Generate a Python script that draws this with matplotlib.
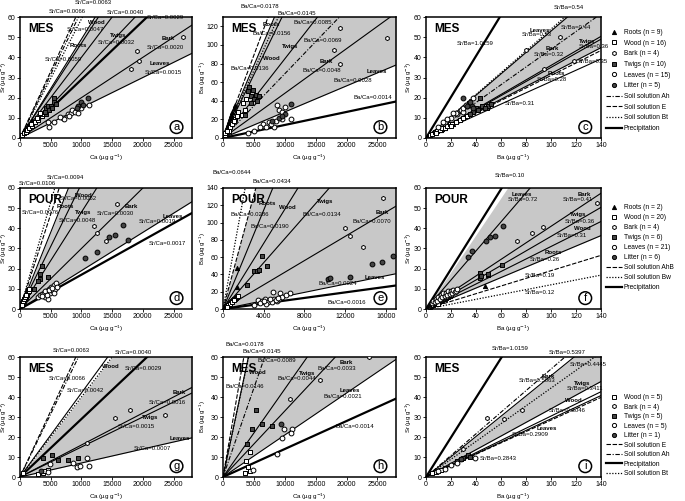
import numpy as np
import matplotlib.pyplot as plt
from matplotlib.lines import Line2D

plt.rcParams['font.family'] = ['Liberation Sans', 'DejaVu Sans']

# ---------------- panel a : Sr vs Ca (MES)
a_slopes = [0.0066, 0.0063, 0.0059, 0.0049, 0.0047, 0.0040, 0.0032, 0.0029, 0.0020, 0.0015]
a_kinds = ['E', 'Ah', 'Bt', 'S', 'S', 'S', 'S', 'P', 'S', 'S']
a_band = (0.0015, 0.0049)
a_notes = ["Sr/Ca=0.0063", "Sr/Ca=0.0066", "Sr/Ca=0.0040", "Sr/Ca=0.0029", "Wood", "Sr/Ca=0.0047",
           "Roots", "Sr/Ca=0.0059", "Twigs", "Sr/Ca=0.0032", "Bark", "Sr/Ca=0.0020", "Leaves", "Sr/Ca=0.0015"]
a_pts = {
    "Roots": ([500, 800, 1000, 1200, 1500, 1800, 2000, 700, 1300], [3, 4, 5, 6, 7, 8, 9, 3.5, 5.5]),
    "Wood": ([300, 600, 900, 1200, 1500, 2000, 2500, 3000, 3500, 3800, 4000, 4200, 2800, 1800, 3300, 4500],
             [1.5, 2.5, 3, 4, 5, 6, 8, 9, 11, 12, 13, 14, 10, 7, 12.5, 15]),
    "Bark": ([18000, 19000, 19300, 26500], [34, 43, 38, 50]),
    "Twigs": ([4200, 4500, 4800, 5000, 5200, 5500, 5600, 4300, 4000, 5800], [15, 16, 14, 16, 15, 20, 18, 12, 13, 17]),
    "Leaves": ([4800, 4500, 5500, 7000, 7200, 7800, 8300, 8500, 9000, 9500, 9800, 10000, 11200, 8000, 6500],
               [5.5, 8, 8, 10, 9.5, 12, 12.5, 14, 13, 12.5, 16, 15, 16.5, 11, 10.5]),
    "Litter": ([9500, 10000, 11000, 9200, 10300], [16, 18, 20, 15, 16.5]),
}

# ---------------- panel b : Ba vs Ca (MES)
b_slopes = [0.0178, 0.0156, 0.0145, 0.0136, 0.0085, 0.0069, 0.0048, 0.0028, 0.0014]
b_kinds = ['E', 'S', 'Bt', 'S', 'S', 'Ah', 'S', 'S', 'P']
b_band = (0.0028, 0.0156)
b_notes = ["Ba/Ca=0.0178", "Ba/Ca=0.0145", "Ba/Ca=0.0085", "Roots", "Ba/Ca=0.0156", "Twigs", "Ba/Ca=0.0069",
           "Wood", "Ba/Ca=0.0136", "Bark", "Ba/Ca=0.0048", "Leaves", "Ba/Ca=0.0028", "Ba/Ca=0.0014"]
b_pts = {
    "Roots": ([500, 800, 1000, 1200, 1500, 1800, 2000, 700, 1300], [10, 15, 18, 22, 28, 32, 35, 12, 25]),
    "Wood": ([300, 600, 900, 1200, 1500, 2000, 2500, 3000, 3500, 3800, 1000, 1800, 400, 700, 2200, 3200],
             [3, 6, 9, 12, 15, 20, 28, 25, 30, 42, 8, 18, 5, 7, 24, 38]),
    "Bark": ([19000, 18000, 19000, 26500], [118, 95, 80, 107]),
    "Twigs": ([4000, 4500, 5000, 5500, 4200, 4800, 5300, 4600, 3500, 5800], [50, 45, 42, 40, 55, 52, 46, 38, 25, 45]),
    "Leaves": ([5000, 6500, 7000, 7500, 8500, 9000, 9500, 10000, 8800, 8200, 9500, 11000, 4000, 6000, 7800],
               [8, 15, 12, 17, 18, 30, 28, 33, 35, 12, 20, 20, 5, 12, 15]),
    "Litter": ([11000, 9000, 10000, 8000, 9500], [37, 22, 26, 18, 24]),
}

# ---------------- panel c : Sr vs Ba (MES)
c_slopes = [1.0159, 0.54, 0.53, 0.44, 0.36, 0.35, 0.32, 0.31, 0.28]
c_kinds = ['P', 'Bt', 'S', 'Ah', 'S', 'S', 'S', 'E', 'S']
c_band = (0.32, 0.54)
c_notes = ["Sr/Ba=0.54", "Leaves", "Sr/Ba=0.53", "Sr/Ba=0.44", "Bark", "Sr/Ba=0.32", "Twigs", "Sr/Ba=0.36",
           "Sr/Ba=0.35", "Roots", "Sr/Ba=0.28", "Sr/Ba=0.31", "Sr/Ba=1.0159"]
c_pts = {
    "Roots": ([4, 6, 8, 10, 12, 15, 18, 22, 13], [2, 3, 3.5, 4, 4, 5, 6, 7, 4.5]),
    "Wood": ([3, 5, 7, 9, 11, 13, 15, 17, 19, 21, 24, 27, 30, 33, 8, 20],
             [1.5, 2, 3, 3.5, 4, 5, 5, 6, 7, 7, 8, 9, 10, 11, 2.5, 6]),
    "Bark": ([107, 80, 94.5, 118], [50, 43.6, 34, 38]),
    "Twigs": ([43, 48.5, 40, 45, 42, 50, 47, 38, 35, 52], [20, 15, 15, 16, 14, 16, 15, 13, 12, 17]),
    "Leaves": ([10, 15, 14, 20, 17, 25, 24, 28, 30, 22, 33, 30, 35, 32, 38],
               [5.5, 8, 8, 10, 9.5, 12, 12.5, 14, 13, 12.5, 16, 15, 17, 16.5, 20]),
    "Litter": ([37, 35, 30, 38, 33], [16, 18, 20, 15, 16]),
}

# ---------------- panel d : Sr vs Ca (POUR)
d_slopes = [0.0106, 0.0094, 0.0076, 0.0062, 0.0048, 0.0030, 0.0019, 0.0017]
d_kinds = ['Bt', 'E', 'S', 'S', 'S', 'S', 'S', 'P']
d_band = (0.0019, 0.0076)
d_notes = ["Sr/Ca=0.0094", "Sr/Ca=0.0106", "Wood", "Sr/Ca=0.0062", "Roots", "Sr/Ca=0.0076", "Twigs",
           "Sr/Ca=0.0048", "Bark", "Sr/Ca=0.0030", "Leaves", "Sr/Ca=0.0019", "Sr/Ca=0.0017"]
d_pts = {
    "Roots": ([1200, 800], [10, 6]),
    "Wood": ([200, 300, 400, 500, 600, 700, 800, 900, 1000, 1100, 1200, 1300, 1400, 1500, 250, 450, 650, 850, 1050, 350],
             [2, 2.5, 3, 3.5, 4, 4.5, 5, 6, 6.5, 7, 8, 8.5, 9, 10, 3, 4, 5, 6, 7, 2]),
    "Bark": ([15800, 12500, 14000, 12000], [52, 37.5, 33.5, 41]),
    "Twigs": ([3500, 4500, 3200, 3300, 2300, 3000], [21.5, 16, 17.5, 15, 10, 14]),
    "Leaves": ([3000, 3300, 3600, 3900, 4100, 4300, 4500, 4700, 4900, 5100, 5300, 5500, 5700, 5900, 3500, 4000,
                4400, 4800, 5200, 5600, 6000],
               [6, 7, 7.5, 8, 6, 9, 5, 10, 8, 11, 9, 12, 10, 13, 6.5, 9, 7, 9.5, 10.5, 8, 11]),
    "Litter": ([10500, 12500, 14500, 15500, 16800, 17500], [25.5, 28.5, 35.5, 36.5, 41.5, 34]),
}

# ---------------- panel e : Ba vs Ca (POUR)
e_slopes = [0.0644, 0.0434, 0.0286, 0.0190, 0.0134, 0.0070, 0.0024, 0.0016]
e_kinds = ['Bt', 'E', 'S', 'S', 'S', 'S', 'S', 'P']
e_band = (0.0024, 0.0434)
e_notes = ["Ba/Ca=0.0644", "Ba/Ca=0.0434", "Roots", "Wood", "Ba/Ca=0.0286", "Ba/Ca=0.0190", "Twigs",
           "Ba/Ca=0.0134", "Bark", "Ba/Ca=0.0070", "Leaves", "Ba/Ca=0.0024", "Ba/Ca=0.0016"]
e_pts = {
    "Roots": ([1380, 1380], [47, 25.5]),
    "Wood": ([200, 300, 400, 500, 600, 700, 800, 900, 1000, 1100, 1200, 1300, 1400, 1500, 250, 450, 650, 850, 1050, 350],
             [2, 3, 4, 5, 6, 7, 8, 9, 10, 11, 12, 13, 14, 15, 3, 5, 6, 8, 10, 2]),
    "Bark": ([15720, 11990, 12480, 13760], [128, 94, 84.5, 72]),
    "Twigs": ([3830, 4320, 3050, 3300, 2360, 3500], [61, 50, 44, 44, 28, 45]),
    "Leaves": ([4900, 5600, 6600, 3440, 3800, 4100, 4400, 4700, 5000, 5300, 5500, 3000, 3600, 4200, 4800, 5200,
                5800, 6200, 4000, 4600, 5400],
               [19.7, 18.5, 18.5, 10.4, 9, 11, 8, 10, 12, 9, 11, 5, 7, 6, 8, 10, 14, 16, 9, 12, 13]),
    "Litter": ([14640, 15620, 16700, 12480, 10320, 10500], [52, 54.5, 61, 37, 34.7, 36]),
}

# ---------------- panel f : Sr vs Ba (POUR)
f_slopes = [0.99, 0.72, 0.41, 0.36, 0.31, 0.26, 0.19, 0.12]
f_kinds = ['P', 'S', 'S', 'S', 'S', 'S', 'E', 'Bt']
f_band = (0.26, 0.92)
f_notes = ["Sr/Ba=0.10", "Leaves", "Sr/Ba=0.72", "Bark", "Sr/Ba=0.41", "Twigs", "Sr/Ba=0.36", "Wood",
           "Sr/Ba=0.31", "Roots", "Sr/Ba=0.26", "Sr/Ba=0.19", "Sr/Ba=0.12"]
f_pts = {
    "Roots": ([47.2, 10], [11.4, 4]),
    "Wood": ([3, 4, 5, 6, 7, 8, 9, 10, 11, 12, 13, 14, 15, 16, 17, 18, 19, 20, 6, 10],
             [1, 1.5, 2, 2, 2.5, 3, 3, 3.5, 4, 4, 4.5, 5, 5, 5.5, 6, 6, 6.5, 7, 3, 2.5]),
    "Bark": ([136.8, 93.6, 84.8, 72.8], [52.5, 40.7, 37.7, 33.7]),
    "Twigs": ([60.8, 43.2, 49.6, 43.2, 44, 50], [21.8, 17.8, 16.9, 15.4, 16.5, 17.5]),
    "Leaves": ([5, 6, 7, 8, 9, 10, 11, 12, 13, 14, 15, 16, 17, 18, 19, 20, 21, 22, 23, 24, 25],
               [3, 4, 3.5, 5, 4, 6, 5, 7, 6, 8, 6.5, 8, 7, 9, 7.5, 9, 8, 9.5, 8.5, 9, 10]),
    "Litter": ([61.6, 55, 51, 48, 36.8, 33.6], [41, 36, 35.7, 33.7, 28.8, 25.8]),
}

# ---------------- panel g : Sr vs Ca (MES, second series)
g_slopes = [0.0066, 0.0063, 0.0042, 0.0040, 0.0029, 0.0016, 0.0015, 0.0007]
g_kinds = ['E', 'Ah', 'S', 'Bt', 'P', 'S', 'S', 'S']
g_band = (0.0007, 0.0040)
g_notes = ["Sr/Ca=0.0063", "Sr/Ca=0.0040", "Wood", "Sr/Ca=0.0029", "Sr/Ca=0.0066", "Sr/Ca=0.0042", "Bark",
           "Sr/Ca=0.0016", "Twigs", "Sr/Ca=0.0015", "Leaves", "Sr/Ca=0.0007"]
g_pts = {
    "Wood": ([3000, 3800, 500, 4000, 4600], [1.5, 2, 2, 3, 3.5]),
    "Bark": ([23600, 17900, 15500, 10900], [31, 33.5, 29.5, 17]),
    "Twigs": ([5200, 3700, 6200, 7800, 9500], [11, 9.5, 8.5, 8.5, 9.5]),
    "Leaves": ([8700, 9200, 9800, 10900, 11300, 4900, 4600], [7, 5, 5.5, 9.5, 5.5, 6.5, 2.5]),
    "Litter": ([3400], [3]),
}

# ---------------- panel h : Ba vs Ca (MES, second series)
h_slopes = [0.0178, 0.0146, 0.0145, 0.0089, 0.0044, 0.0033, 0.0021, 0.0014]
h_kinds = ['E', 'S', 'Bt', 'Ah', 'S', 'S', 'S', 'P']
h_band = (0.0021, 0.0146)
h_notes = ["Ba/Ca=0.0178", "Ba/Ca=0.0145", "Ba/Ca=0.0089", "Wood", "Ba/Ca=0.0146", "Twigs", "Ba/Ca=0.0044",
           "Bark", "Ba/Ca=0.0033", "Leaves", "Ba/Ca=0.0021", "Ba/Ca=0.0014"]
h_pts = {
    "Wood": ([4370, 3800, 4000, 4300, 3600], [12.5, 8, 5, 3, 2]),
    "Bark": ([23700, 15700, 10840], [60, 48.5, 39]),
    "Twigs": ([5340, 6300, 4700, 7930, 3880], [33.5, 26.5, 24, 25.5, 16.5]),
    "Leaves": ([9870, 11170, 11000, 9550, 8740, 4800], [24, 24, 22, 19.5, 11.5, 3.5]),
    "Litter": ([9390], [26.5]),
}

# ---------------- panel i : Sr vs Ba (MES, second series)
i_slopes = [0.99, 0.5397, 0.5063, 0.4445, 0.3411, 0.3046, 0.2909, 0.2843]
i_kinds = ['P', 'Ah', 'S', 'Bt', 'S', 'S', 'S', 'E']
i_band = (0.3411, 0.5063)
i_notes = ["Sr/Ba=1.0159", "Sr/Ba=0.5397", "Sr/Ba=0.4445", "Bark", "Sr/Ba=0.5063", "Twigs", "Sr/Ba=0.3411",
           "Wood", "Sr/Ba=0.3046", "Leaves", "Sr/Ba=0.2909", "Sr/Ba=0.2843"]
i_pts = {
    "Wood": ([5, 8, 10, 12, 15], [2, 2.5, 3, 3.5, 4.5]),
    "Bark": ([76.8, 48.8, 62, 30], [33.5, 29.5, 29, 14]),
    "Twigs": ([33.6, 28, 25, 35, 30], [11, 9, 8, 10, 9.5]),
    "Leaves": ([39.2, 20, 25, 10, 15], [9.5, 6, 7, 3, 4]),
    "Litter": ([28], [9]),
}

legend_c = ["Roots (n = 9)", "Wood (n = 16)", "Bark (n = 4)", "Twigs (n = 10)", "Leaves (n = 15)", "Litter (n = 5)",
            "Soil solution Ah", "Soil solution E", "Soil solution Bt", "Precipitation"]
legend_f = ["Roots (n = 2)", "Wood (n = 20)", "Bark (n = 4)", "Twigs (n = 6)", "Leaves (n = 21)", "Litter (n = 6)",
            "Soil solution AhB", "Soil solution Bw", "Precipitation"]
legend_i = ["Wood (n = 5)", "Bark (n = 4)", "Twigs (n = 5)", "Leaves (n = 5)", "Litter (n = 1)",
            "Soil solution E", "Soil solution Ah", "Precipitation", "Soil solution Bt"]

# ---------------- styles / layout
line_style = {
    'E': dict(ls=(0, (4, 1.5)), lw=0.8),
    'Ah': dict(ls=(0, (4, 1.5, 1, 1.5)), lw=0.8),
    'Bt': dict(ls=(0, (1, 1.3)), lw=0.9),
    'P': dict(ls='-', lw=1.6),
    'S': dict(ls='-', lw=0.8),
}
mark = {
    "Roots": dict(marker='^', c='black', ec='black', s=9),
    "Wood": dict(marker='s', c='white', ec='black', s=9),
    "Bark": dict(marker='h', c='white', ec='black', s=9),
    "Twigs": dict(marker='s', c='#444444', ec='black', s=12),
    "Leaves": dict(marker='o', c='white', ec='black', s=12),
    "Litter": dict(marker='o', c='#444444', ec='black', s=12),
}

W, H = 685, 501
col_left = [20, 223, 426]
col_w = [172, 173, 175]
col_ylab = [9, 208, 414]      # x pixel of the right edge of the y-axis title
row_top = [17, 188, 357]
row_bot = [138, 309, 477]

fig = plt.figure(figsize=(W / 100, H / 100), dpi=100)


def make_ax(r, c):
    l, t, b = col_left[c], row_top[r], row_bot[r]
    ax = fig.add_axes([l / W, 1 - b / H, col_w[c] / W, (b - t) / H])
    ax.yaxis.set_label_coords((col_ylab[c] - l) / col_w[c], 0.5)
    return ax


def panel(ax, slopes, kinds, band, notes, note_xy, pts, xmax, ymax, xt, yt, xl, yl, site, letter):
    ax.set_xlim(0, xmax)
    ax.set_ylim(0, ymax)
    xs = np.array([0, xmax])
    ax.fill_between(xs, band[0] * xs, band[1] * xs, color='#c8c8c8', lw=0, zorder=0)
    for s, k in zip(slopes, kinds):
        ax.plot(xs, s * xs, color='black', zorder=2, **line_style[k])
    for name, (px, py) in pts.items():
        ax.scatter(px, py, lw=0.7, zorder=3, **mark[name])
    for txt, (tx, ty) in zip(notes, note_xy):
        bold = txt in ("Roots", "Wood", "Twigs", "Bark", "Leaves")
        ax.text(tx, ty, txt, fontsize=4.3, ha='center', va='center',
                fontweight='bold' if bold else 'normal', zorder=4)
    ax.set_xticks(xt)
    ax.set_yticks(yt)
    ax.tick_params(labelsize=5, length=2, width=0.6, pad=1.2)
    for sp in ax.spines.values():
        sp.set_linewidth(1.1)
    ax.set_xlabel(xl, fontsize=4.5, labelpad=2)
    ax.set_ylabel(yl, fontsize=4.3)
    ax.text(0.05, 0.9, site, transform=ax.transAxes, fontsize=8.5, fontweight='bold', va='center', zorder=5)
    ax.text(0.91, 0.09, letter, transform=ax.transAxes, fontsize=8, ha='center', va='center', zorder=5,
            bbox=dict(boxstyle='circle,pad=0.12', fc='white', ec='black', lw=1.1))


ca_ticks = [0, 5000, 10000, 15000, 20000, 25000]
ba_ticks = [0, 20, 40, 60, 80, 100, 120, 140]
y60 = [0, 10, 20, 30, 40, 50, 60]
ca_lab = "Ca (µg g$^{-1}$)"
sr_lab = "Sr (µg g$^{-1}$)"
ba_lab = "Ba (µg g$^{-1}$)"

a_xy = [(11900, 67.4), (7650, 62.5), (17100, 62), (23600, 59.6), (12500, 57.5), (10600, 54), (9500, 46),
        (7100, 39), (16000, 51), (15700, 47.6), (24100, 49.5), (23600, 45), (22800, 36.7), (23300, 32.7)]
panel(make_ax(0, 0), a_slopes, a_kinds, a_band, a_notes, a_xy, a_pts, 28000, 60, ca_ticks, y60,
      ca_lab, sr_lab, "MES", "a")

b_xy = [(6000, 141), (12000, 134), (14600, 124), (7900, 122), (7900, 112), (10800, 98), (16200, 105),
        (7900, 85), (4400, 75), (16800, 82), (16000, 73), (24900, 71), (21000, 62), (24300, 44)]
panel(make_ax(0, 1), b_slopes, b_kinds, b_band, b_notes, b_xy, b_pts, 28000, 130, ca_ticks,
      [0, 20, 40, 60, 80, 100, 120], ca_lab, ba_lab, "MES", "b")

c_xy = [(114.5, 64.5), (90.7, 53.5), (88.3, 51.3), (120, 55), (101, 44.6), (98.6, 41.6), (129, 48),
        (134, 45.6), (133, 38), (104, 32), (101, 28.8), (75, 16.9), (39, 47)]
panel(make_ax(0, 2), c_slopes, c_kinds, c_band, c_notes, c_xy, c_pts, 140, 60, ba_ticks, y60,
      ba_lab, sr_lab, "MES", "c")

d_xy = [(7330, 65), (2770, 62), (10250, 56.5), (9450, 54.6), (7330, 51), (3250, 47.7), (10250, 47.7),
        (9280, 43.8), (18200, 50.6), (15470, 47.2), (24900, 46), (22300, 43.3), (23900, 32.5)]
panel(make_ax(1, 0), d_slopes, d_kinds, d_band, d_notes, d_xy, d_pts, 28000, 60, ca_ticks, y60,
      ca_lab, sr_lab, "POUR", "d")

e_xy = [(880, 158.5), (4800, 148), (4400, 122.6), (6300, 117), (2650, 108.8), (4600, 96), (10000, 124),
        (9700, 108.8), (15700, 112), (14600, 101.8), (14900, 37), (11300, 30), (12200, 8)]
panel(make_ax(1, 1), e_slopes, e_kinds, e_band, e_notes, e_xy, e_pts, 17000, 140,
      [0, 4000, 8000, 12000, 16000], [0, 20, 40, 60, 80, 100, 120, 140], ca_lab, ba_lab, "POUR", "e")

f_xy = [(67, 66.4), (76.8, 57), (77.6, 54.5), (127, 57), (121.6, 54.5), (121.6, 47), (123, 43.6),
        (124.8, 40), (116.8, 36.2), (101.6, 27.8), (95, 24.3), (91, 16.4), (91, 8.4)]
panel(make_ax(1, 2), f_slopes, f_kinds, f_band, f_notes, f_xy, f_pts, 140, 60, ba_ticks, y60,
      ba_lab, sr_lab, "POUR", "f")

g_xy = [(8400, 63.5), (18400, 62), (14650, 55), (20000, 54), (7650, 49.5), (10600, 43.5), (26000, 42.5),
        (23900, 37.5), (21200, 30), (19000, 25), (26000, 19.5), (21500, 14.5)]
panel(make_ax(2, 0), g_slopes, g_kinds, g_band, g_notes, g_xy, g_pts, 28000, 60, ca_ticks, y60,
      ca_lab, sr_lab, "MES", "g")

h_xy = [(3560, 66), (6300, 62.7), (8740, 58.5), (5500, 52), (3560, 45.5), (13600, 52), (12000, 49.5),
        (20000, 57.5), (18400, 54), (20500, 43.5), (19400, 40), (21300, 25)]
panel(make_ax(2, 1), h_slopes, h_kinds, h_band, h_notes, h_xy, h_pts, 28000, 60, ca_ticks, y60,
      ca_lab, ba_lab, "MES", "h")

i_xy = [(67, 64.5), (112.8, 62), (129.6, 56.5), (97.6, 50.5), (88.8, 48.5), (124.8, 47), (127.2, 44),
        (117.6, 38), (112.8, 33.5), (96.8, 24), (83.2, 21.5), (57.6, 9.5)]
panel(make_ax(2, 2), i_slopes, i_kinds, i_band, i_notes, i_xy, i_pts, 140, 60, ba_ticks, y60,
      ba_lab, sr_lab, "MES", "i")


def point_handle(name):
    m = mark[name]
    return Line2D([], [], ls='none', marker=m['marker'], mfc=m['c'], mec='black', mew=0.7, ms=3)


def line_handle(k):
    return Line2D([], [], color='black', **line_style[k])


def add_legend(labels, kinds, y_px, spacing):
    handles = []
    for lab, k in zip(labels, kinds):
        handles.append(point_handle(k) if k in mark else line_handle(k))
    fig.legend(handles, labels, loc='upper left', bbox_to_anchor=(606 / W, 1 - y_px / H),
               fontsize=4.8, frameon=False, handlelength=2.4, handletextpad=0.3,
               labelspacing=spacing, borderaxespad=0, borderpad=0)


add_legend(legend_c, ["Roots", "Wood", "Bark", "Twigs", "Leaves", "Litter", 'Ah', 'E', 'Bt', 'P'], 29, 0.55)
add_legend(legend_f, ["Roots", "Wood", "Bark", "Twigs", "Leaves", "Litter", 'E', 'Bt', 'P'], 204, 0.45)
add_legend(legend_i, ["Wood", "Bark", "Twigs", "Leaves", "Litter", 'E', 'Ah', 'P', 'Bt'], 394, 0.38)

fig.savefig("out.png", dpi=100)
